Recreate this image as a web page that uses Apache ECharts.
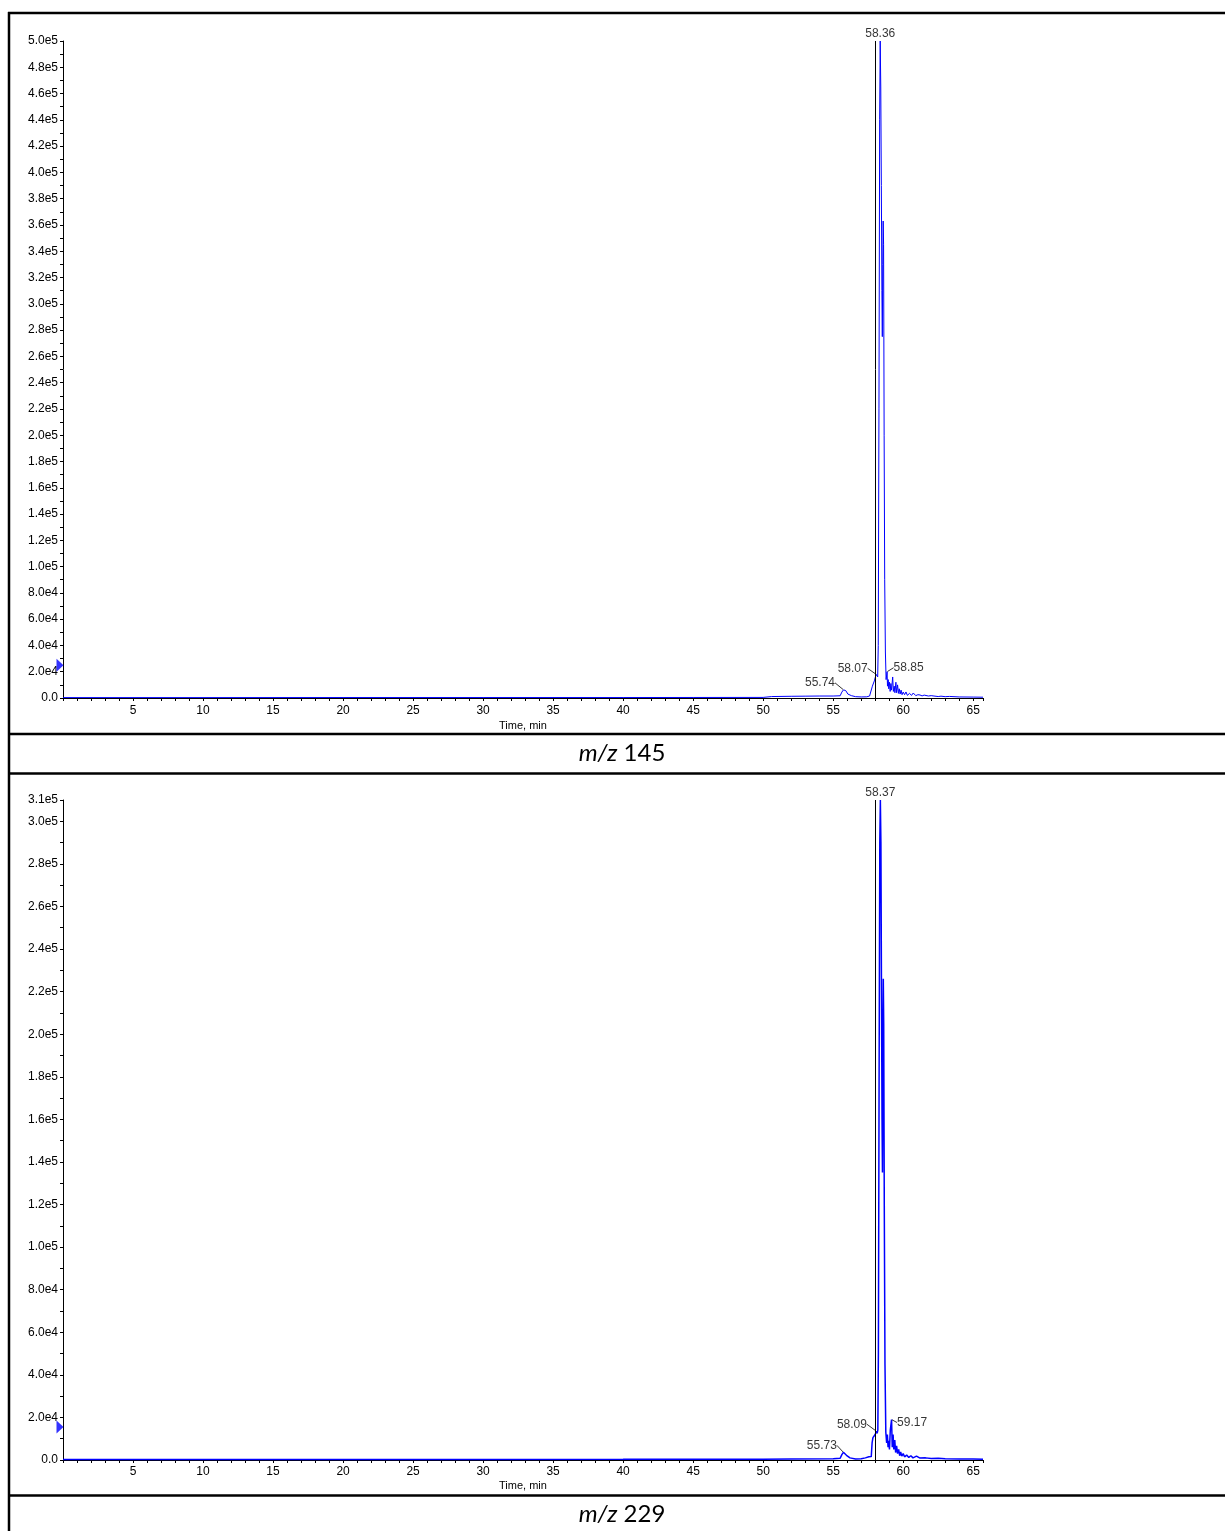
<!DOCTYPE html>
<html>
<head>
<meta charset="utf-8">
<title>m/z 145 / m/z 229</title>
<script src="https://cdn.jsdelivr.net/npm/echarts@6/dist/echarts.min.js"></script>
<style>
    html, body { margin: 0; padding: 0; background: #fff; }
    #chart { width: 1225px; height: 1531px; }
</style>
</head>
<body>
<div id="chart"></div>
<script>
var FONT = 'Liberation Sans, Arial, sans-serif';

// time axis, min
var timeMax = 65.7;
var timeStep = 5;

// m/z 145 trace [time, intensity]
var trace145 = [
    [0, 300], [10, 300], [20, 350], [30, 350], [40, 350], [45, 400], [50, 450],
    [50.6, 1100], [52, 1300], [53, 1400], [54, 1500], [55, 1500], [55.5, 1700],
    [55.62, 4500], [55.74, 6200], [55.82, 5000], [55.9, 5600], [56.05, 3000],
    [56.3, 1800], [56.6, 1000], [57, 800], [57.4, 900], [57.6, 1500], [57.72, 3000],
    [57.8, 9000], [57.88, 10500], [57.94, 13000], [58.0, 15500], [58.07, 18000],
    [58.12, 17000], [58.18, 16000], [58.22, 40000], [58.27, 220000], [58.32, 440000],
    [58.36, 500000], [58.4, 465000], [58.44, 390000], [58.48, 310000], [58.51, 275000],
    [58.54, 330000], [58.57, 363000], [58.6, 345000], [58.64, 200000], [58.68, 90000],
    [58.73, 35000], [58.78, 14000], [58.85, 20000], [58.88, 9000], [58.93, 14000],
    [58.97, 7000], [59.02, 12000], [59.07, 5000], [59.12, 11000], [59.17, 6000],
    [59.25, 16000], [59.3, 5000], [59.36, 9000], [59.41, 4000], [59.48, 12000],
    [59.53, 4000], [59.6, 10000], [59.66, 3500], [59.72, 7000], [59.78, 3000],
    [59.85, 6000], [59.92, 2500], [60.0, 4500], [60.1, 2500], [60.2, 4600],
    [60.3, 2000], [60.45, 3500], [60.6, 2000], [60.72, 3800], [60.9, 1800],
    [61.05, 2500], [61.2, 2300], [61.35, 1600], [61.5, 2200], [61.8, 1500],
    [62.0, 1800], [62.2, 1500], [62.5, 1100], [62.7, 1400], [63, 1000], [63.3, 1200],
    [64, 800], [65, 700], [65.7, 600]
];

// m/z 229 trace [time, intensity]
var trace229 = [
    [0, 200], [10, 200], [20, 250], [30, 250], [40, 300], [50, 400], [52, 500],
    [55, 600], [55.5, 800], [55.62, 2500], [55.73, 3600], [55.82, 3000], [55.95, 2200],
    [56.2, 1000], [56.6, 500], [57.0, 600], [57.3, 1000], [57.55, 1500], [57.72, 1600],
    [57.78, 8000], [57.84, 10500], [57.93, 11000], [58.0, 12000], [58.09, 13500],
    [58.14, 12500], [58.19, 14000], [58.23, 50000], [58.28, 180000], [58.33, 290000],
    [58.37, 310000], [58.41, 290000], [58.45, 220000], [58.49, 160000], [58.52, 135000],
    [58.55, 200000], [58.58, 226000], [58.61, 205000], [58.65, 120000], [58.7, 45000],
    [58.76, 13000], [58.82, 8000], [58.87, 12000], [58.92, 6000], [58.97, 9000],
    [59.02, 5000], [59.08, 14000], [59.17, 19000], [59.22, 6000], [59.28, 12000],
    [59.33, 5000], [59.4, 9400], [59.46, 3500], [59.53, 6600], [59.6, 3000],
    [59.68, 5000], [59.75, 2000], [59.82, 3800], [59.9, 1800], [60.0, 3000],
    [60.1, 1500], [60.25, 2300], [60.4, 1200], [60.55, 2000], [60.7, 1000],
    [60.95, 1800], [61.2, 900], [61.6, 1000], [62, 700], [62.5, 800], [63, 600],
    [64, 500], [65, 500], [65.7, 400]
];

// labelled peaks [time, intensity]
var peaks145 = [[55.74, 6200], [58.07, 18000], [58.36, 500000], [58.85, 20000]];
var peaks229 = [[55.73, 3600], [58.09, 13500], [58.37, 310000], [59.17, 19000]];

// black marker line and the blue level marker on the y axis
var cut145 = 58.0, cut229 = 58.0;
var level145 = 25000, level229 = 15500;

var yMax145 = 500000, yMax229 = 310000;
var yStep = 10000;

// label placement for each labelled peak
var place145 = [
    { pos: 'left', dx: -4, dy: -7, line: true },
    { pos: 'left', dx: -4, dy: -6, line: true },
    { pos: 'top', dx: 0, dy: 3, line: false },
    { pos: 'right', dx: 2, dy: -4, line: true }
];
var place229 = [
    { pos: 'left', dx: -2, dy: -7, line: true },
    { pos: 'left', dx: -5, dy: -7, line: true },
    { pos: 'top', dx: 0, dy: 3, line: false },
    { pos: 'right', dx: 1, dy: 3, line: true }
];

function sciLabel(max) {
    return function (v) {
        if (v === 0) return '0.0';
        var k = Math.round(v / yStep);
        if (k % 2 !== 0 && v !== max) return '';
        var e = Math.floor(Math.log10(v) + 1e-9);
        return (v / Math.pow(10, e)).toFixed(1) + 'e' + e;
    };
}

function xAxisOf(idx, gap, margin) {
    return {
        gridIndex: idx,
        type: 'value',
        min: 0,
        max: timeMax,
        interval: 1,
        axisLine: { show: true, onZero: false, lineStyle: { color: '#000', width: 1 } },
        axisTick: { show: true, length: 3, lineStyle: { color: '#000' } },
        axisLabel: {
            margin: margin,
            fontSize: 12,
            fontFamily: FONT,
            color: '#000',
            formatter: function (v) {
                return (v > 0 && Math.abs(v % timeStep) < 1e-6) ? String(Math.round(v)) : '';
            }
        },
        splitLine: { show: false },
        name: 'Time, min',
        nameLocation: 'middle',
        nameGap: gap,
        nameTextStyle: { fontSize: 11, fontFamily: FONT, color: '#000' }
    };
}

function yAxisOf(idx, max) {
    return {
        gridIndex: idx,
        type: 'value',
        min: 0,
        max: max,
        interval: yStep,
        axisLine: { show: true, lineStyle: { color: '#000', width: 1 } },
        axisTick: { show: true, length: 3, lineStyle: { color: '#000' } },
        axisLabel: { margin: 5, fontSize: 12, fontFamily: FONT, color: '#000', formatter: sciLabel(max) },
        splitLine: { show: false }
    };
}

function seriesOf(idx, trace, peaks, place, cut, level, max, width) {
    return [{
        type: 'line',
        xAxisIndex: idx,
        yAxisIndex: idx,
        data: trace,
        symbol: 'none',
        lineStyle: { color: '#0000ff', width: width },
        itemStyle: { color: '#0000ff' },
        markLine: {
            silent: true,
            symbol: 'none',
            label: { show: false },
            lineStyle: { color: '#000', width: 1, type: 'solid' },
            data: [[{ coord: [cut, 0] }, { coord: [cut, max] }]]
        }
    }, {
        type: 'scatter',
        xAxisIndex: idx,
        yAxisIndex: idx,
        data: [[0, level]],
        symbol: 'triangle',
        symbolSize: [13, 7],
        symbolRotate: -90,
        symbolOffset: [-3, 0],
        itemStyle: { color: '#0000ff' },
        clip: false,
        silent: true
    }, {
        type: 'scatter',
        xAxisIndex: idx,
        yAxisIndex: idx,
        z: 5,
        clip: false,
        silent: true,
        symbol: 'circle',
        symbolSize: 1,
        itemStyle: { color: 'rgba(0,0,0,0)' },
        data: peaks.map(function (p, i) {
            return {
                value: p,
                label: { position: place[i].pos },
                labelLine: { show: place[i].line }
            };
        }),
        label: {
            show: true,
            distance: 4,
            fontSize: 12,
            fontFamily: FONT,
            color: '#000',
            formatter: function (p) { return p.value[0].toFixed(2); }
        },
        labelLine: { show: true, lineStyle: { color: '#000', width: 0.8 } },
        labelLayout: function (p) {
            return { dx: place[p.dataIndex].dx, dy: place[p.dataIndex].dy };
        }
    }];
}

var chart = echarts.init(document.getElementById('chart'));

var option = {
    animation: false,
    backgroundColor: '#fff',
    grid: [
        { left: 63, top: 41, width: 920, height: 657 },
        { left: 63, top: 800, width: 920, height: 660 }
    ],
    xAxis: [xAxisOf(0, 22, 7), xAxisOf(1, 20, 6)],
    yAxis: [yAxisOf(0, yMax145), yAxisOf(1, yMax229)],
    series: [].concat(
        seriesOf(0, trace145, peaks145, place145, cut145, level145, yMax145, 1),
        seriesOf(1, trace229, peaks229, place229, cut229, level229, yMax229, 1.5)
    ),
    graphic: [
        { type: 'line', shape: { x1: 9, y1: 12, x2: 9, y2: 1531 }, style: { stroke: '#000', lineWidth: 2.5 } },
        { type: 'line', shape: { x1: 8, y1: 13, x2: 1225, y2: 13 }, style: { stroke: '#000', lineWidth: 2.5 } },
        { type: 'line', shape: { x1: 8, y1: 734, x2: 1225, y2: 734 }, style: { stroke: '#000', lineWidth: 2.5 } },
        { type: 'line', shape: { x1: 8, y1: 773.5, x2: 1225, y2: 773.5 }, style: { stroke: '#000', lineWidth: 2.5 } },
        { type: 'line', shape: { x1: 8, y1: 1495.5, x2: 1225, y2: 1495.5 }, style: { stroke: '#000', lineWidth: 2.5 } },
        {
            type: 'text', x: 622, y: 753,
            style: {
                text: '{i|m/z} 145', align: 'center', verticalAlign: 'middle',
                fontSize: 24, fontFamily: 'Lato, Open Sans, sans-serif', fill: '#000',
                rich: { i: { fontStyle: 'italic', fontSize: 24, fontFamily: 'Lato, Open Sans, sans-serif' } }
            }
        },
        {
            type: 'text', x: 622, y: 1514,
            style: {
                text: '{i|m/z} 229', align: 'center', verticalAlign: 'middle',
                fontSize: 24, fontFamily: 'Lato, Open Sans, sans-serif', fill: '#000',
                rich: { i: { fontStyle: 'italic', fontSize: 24, fontFamily: 'Lato, Open Sans, sans-serif' } }
            }
        }
    ]
};

chart.setOption(option);
</script>
</body>
</html>
